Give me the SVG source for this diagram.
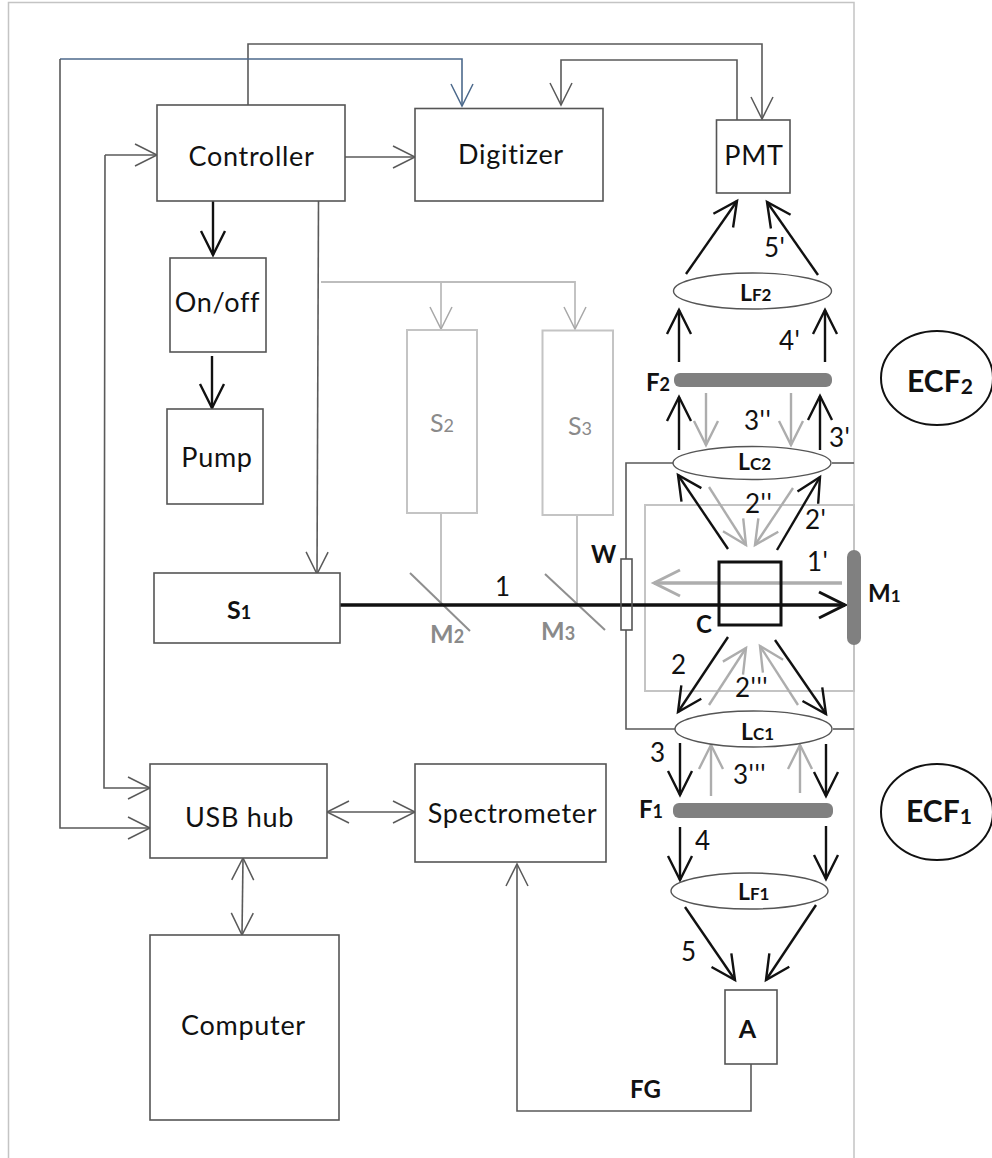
<svg xmlns="http://www.w3.org/2000/svg" width="992" height="1158" viewBox="0 0 992 1158">
<style>
text{font-family:"Lato","Open Sans","Liberation Sans",sans-serif;fill:#111}
.t{font-size:27px;letter-spacing:.7px;text-anchor:middle}
.n{font-size:26px;letter-spacing:.5px}
.b{font-weight:700}
.g{fill:#8a8a8a}
.box{fill:#fff;stroke:#555;stroke-width:1.6}
.lite{fill:#fff;stroke:#c4c4c4;stroke-width:2}
.ell{fill:#fff;stroke:#555;stroke-width:1.4}
.bar{fill:#808080;stroke:none}
.c{fill:none;stroke:#5a5a5a;stroke-width:1.6}
.cg{fill:none;stroke:#bdbdbd;stroke-width:1.8}
.cb{fill:none;stroke:#4d6a8c;stroke-width:1.6}
.k{fill:none;stroke:#111;stroke-width:2.4}
.h{fill:none;stroke:#adadad;stroke-width:2.4}
</style>
<defs>
<marker id="ad" markerUnits="userSpaceOnUse" markerWidth="30" markerHeight="30" refX="24" refY="13" orient="auto-start-reverse" overflow="visible"><path d="M2,2 L24,13 L2,24" fill="none" stroke="#5a5a5a" stroke-width="1.5"/></marker>
<marker id="ab" markerUnits="userSpaceOnUse" markerWidth="30" markerHeight="30" refX="24" refY="13" orient="auto-start-reverse" overflow="visible"><path d="M2,2 L24,13 L2,24" fill="none" stroke="#4d6a8c" stroke-width="1.5"/></marker>
<marker id="ag" markerUnits="userSpaceOnUse" markerWidth="30" markerHeight="30" refX="24" refY="13" orient="auto-start-reverse" overflow="visible"><path d="M2,2 L24,13 L2,24" fill="none" stroke="#a8a8a8" stroke-width="1.5"/></marker>
<marker id="ak" markerUnits="userSpaceOnUse" markerWidth="34" markerHeight="34" refX="26" refY="14" orient="auto-start-reverse" overflow="visible"><path d="M2,2 L26,14 L2,26" fill="none" stroke="#111" stroke-width="2.4"/></marker>
<marker id="ah" markerUnits="userSpaceOnUse" markerWidth="34" markerHeight="34" refX="26" refY="14" orient="auto-start-reverse" overflow="visible"><path d="M2,2 L26,14 L2,26" fill="none" stroke="#adadad" stroke-width="2.4"/></marker>
<marker id="aK" markerUnits="userSpaceOnUse" markerWidth="40" markerHeight="40" refX="28" refY="15" orient="auto" overflow="visible"><path d="M2,2 L28,15 L2,28" fill="none" stroke="#111" stroke-width="3"/></marker>
<marker id="aH" markerUnits="userSpaceOnUse" markerWidth="40" markerHeight="40" refX="28" refY="15" orient="auto" overflow="visible"><path d="M2,2 L28,15 L2,28" fill="none" stroke="#adadad" stroke-width="3"/></marker>
</defs>
<rect width="992" height="1158" fill="#fff"/>
<path d="M8.500,1158 V2.500 H854 V1158" fill="none" stroke="#c4c4c4" stroke-width="1.500"/>
<g id="nodes-frame"><rect id="chamber" x="645" y="505" width="209" height="186" fill="none" stroke="#c4c4c4" stroke-width="2"/></g>
<g id="connectors">
<path class="c" d="M248,105 V44 H762 V119" marker-end="url(#ad)"/>
<path class="c" d="M737,120 V60 H561 V105" marker-end="url(#ad)"/>
<path class="cb" d="M60,59 H462 V106" marker-end="url(#ab)"/>
<path class="c" d="M60,59 V828 H150" marker-end="url(#ad)"/>
<path class="c" d="M105,155 L104,788 H150" marker-end="url(#ad)"/>
<path class="c" d="M105,155 H157" marker-end="url(#ad)"/>
<path class="c" d="M345,157 H415" marker-end="url(#ad)"/>
<path class="k" d="M213,201 V255" marker-end="url(#ak)"/>
<path class="k" d="M212,356 V408" marker-end="url(#ak)"/>
<path class="c" d="M318.500,201 L317,574" marker-end="url(#ad)"/>
<path class="cg" d="M321,282 H575 V329" marker-end="url(#ag)"/>
<path class="cg" d="M441,282 V329" marker-end="url(#ag)"/>
<path class="cg" d="M441,513 V603"/>
<path class="cg" d="M577,515 V603"/>
<path class="c" d="M327,812 H415" marker-start="url(#ad)" marker-end="url(#ad)"/>
<path class="c" d="M243,858 L242,935" marker-start="url(#ad)" marker-end="url(#ad)"/>
<path class="c" d="M751,1064 V1111 H517 V864" marker-end="url(#ad)"/>
<path class="c" d="M673,463 H626 V559"/>
<path class="c" d="M626,630 V729 H675"/>
<path class="c" d="M832,463 H854"/>
<path class="c" d="M833,729 H854"/>
<path d="M410,573 L470,631" stroke="#8f8f8f" stroke-width="2" fill="none"/>
<path d="M545,574 L605,630" stroke="#8f8f8f" stroke-width="2" fill="none"/>
<path d="M340,605 H845" fill="none" stroke="#111" stroke-width="3.500" marker-end="url(#aK)"/>
<path d="M842,583 H654" fill="none" stroke="#adadad" stroke-width="3.500" marker-end="url(#aH)"/>
<path class="k" d="M728,549 L678,475" marker-end="url(#ak)"/>
<path class="k" d="M777,550 L820,477" marker-end="url(#ak)"/>
<path class="h" d="M709,487 L746,545" marker-end="url(#ah)"/>
<path class="h" d="M793,488 L755,545" marker-end="url(#ah)"/>
<path class="k" d="M728,637 L678,712" marker-end="url(#ak)"/>
<path class="k" d="M775,640 L826,714" marker-end="url(#ak)"/>
<path class="h" d="M709,705 L746,648" marker-end="url(#ah)"/>
<path class="h" d="M798,705 L760,646" marker-end="url(#ah)"/>
<path class="k" d="M680,743 V795" marker-end="url(#ak)"/>
<path class="k" d="M826,744 V796" marker-end="url(#ak)"/>
<path class="h" d="M711,796 V745" marker-end="url(#ah)"/>
<path class="h" d="M800,793 V745" marker-end="url(#ah)"/>
<path class="k" d="M680,827 V880" marker-end="url(#ak)"/>
<path class="k" d="M826,826 V879" marker-end="url(#ak)"/>
<path class="k" d="M685,907 L735,980" marker-end="url(#ak)"/>
<path class="k" d="M816,905 L766,980" marker-end="url(#ak)"/>
<path class="k" d="M686,274 L737,201" marker-end="url(#ak)"/>
<path class="k" d="M818,275 L767,202" marker-end="url(#ak)"/>
<path class="k" d="M679,362 V310" marker-end="url(#ak)"/>
<path class="k" d="M825,362 V310" marker-end="url(#ak)"/>
<path class="k" d="M679,450 V397" marker-end="url(#ak)"/>
<path class="k" d="M820,450 V396" marker-end="url(#ak)"/>
<path class="h" d="M706,393 V445" marker-end="url(#ah)"/>
<path class="h" d="M791,393 V445" marker-end="url(#ah)"/>
</g>
<g id="controller"><rect class="box" x="157" y="105" width="188" height="96"/><text class="t" x="251.500" y="166">Controller</text></g>
<g id="digitizer"><rect class="box" x="415" y="108.500" width="188" height="92.500"/><text class="t" x="511" y="164">Digitizer</text></g>
<g id="pmt"><rect class="box" x="716.500" y="120" width="73.500" height="73"/><text class="t" x="754" y="165">PMT</text></g>
<g id="onoff"><rect class="box" x="170" y="258" width="96" height="94"/><text class="t" x="217.500" y="312">On/off</text></g>
<g id="pump"><rect class="box" x="167" y="409" width="96" height="95"/><text class="t" x="217" y="467">Pump</text></g>
<g id="s1"><rect class="box" x="154" y="573" width="186" height="70"/><text class="b" x="227" y="619" font-size="25">S<tspan font-size="18">1</tspan></text></g>
<g id="s2"><rect class="lite" x="407" y="330" width="70" height="183"/><text class="g" x="430" y="432" font-size="25">S<tspan font-size="18">2</tspan></text></g>
<g id="s3"><rect class="lite" x="542.500" y="330.500" width="70.500" height="184.500"/><text class="g" x="568" y="435" font-size="25">S<tspan font-size="18">3</tspan></text></g>
<g id="usb-hub"><rect class="box" x="150" y="764" width="177" height="94"/><text class="t" x="239.500" y="827">USB hub</text></g>
<g id="spectrometer"><rect class="box" x="415" y="764" width="191" height="98"/><text class="t" x="512.500" y="823">Spectrometer</text></g>
<g id="computer"><rect class="box" x="150" y="935" width="189" height="185"/><text class="t" x="243.500" y="1035">Computer</text></g>
<g id="a"><rect class="box" x="725" y="990" width="52" height="74"/><text class="b" x="747.500" y="1038" font-size="25" text-anchor="middle">A</text></g>
<g id="window-w"><rect class="box" x="621" y="559" width="11" height="71" fill-opacity="0"/></g>
<g id="cuvette-c"><rect x="719" y="562" width="62" height="63" fill="none" stroke="#111" stroke-width="3"/></g>
<g id="m1"><rect class="bar" x="847" y="550" width="14" height="95" rx="7"/></g>
<g id="f2"><rect class="bar" x="674" y="373" width="158" height="14" rx="6"/></g>
<g id="f1"><rect class="bar" x="673" y="803" width="160" height="15" rx="6"/></g>
<g id="lf2"><ellipse class="ell" cx="752.500" cy="291" rx="79" ry="18"/><text class="b" x="740" y="301" font-size="23">L<tspan font-size="17">F2</tspan></text></g>
<g id="lc2"><ellipse class="ell" cx="752" cy="463" rx="79" ry="16.500"/><text class="b" x="738" y="470" font-size="23">L<tspan font-size="17">C2</tspan></text></g>
<g id="lc1"><ellipse class="ell" cx="753.500" cy="729" rx="78.500" ry="18"/><text class="b" x="741" y="740" font-size="23">L<tspan font-size="17">C1</tspan></text></g>
<g id="lf1"><ellipse class="ell" cx="749.500" cy="891" rx="78.500" ry="18"/><text class="b" x="738" y="900" font-size="23">L<tspan font-size="17">F1</tspan></text></g>
<g id="ecf2"><ellipse cx="937" cy="378" rx="56" ry="47" fill="#fff" stroke="#111" stroke-width="2"/><text class="b" x="907" y="392" font-size="30">ECF<tspan font-size="21" dy="2">2</tspan></text></g>
<g id="ecf1"><ellipse cx="937" cy="812" rx="56" ry="48" fill="#fff" stroke="#111" stroke-width="2"/><text class="b" x="906" y="822" font-size="30">ECF<tspan font-size="21" dy="2">1</tspan></text></g>
<g id="labels">
<text class="n" x="495" y="596">1</text>
<text class="b g" x="430" y="643" font-size="25">M<tspan font-size="18">2</tspan></text>
<text class="b g" x="541" y="640" font-size="25">M<tspan font-size="18">3</tspan></text>
<text class="b" x="591" y="563" font-size="24">W</text>
<text class="b" x="696" y="633" font-size="24">C</text>
<text class="b" x="868" y="602" font-size="24">M<tspan font-size="17">1</tspan></text>
<text class="n" x="807" y="571">1'</text>
<text class="n" x="805" y="529">2'</text>
<text class="n" x="745" y="513">2''</text>
<text class="n" x="735" y="697">2'''</text>
<text class="n" x="671" y="674">2</text>
<text class="n" x="829" y="447">3'</text>
<text class="n" x="744" y="430">3''</text>
<text class="n" x="779" y="350">4'</text>
<text class="n" x="764" y="257">5'</text>
<text class="n" x="650" y="762">3</text>
<text class="n" x="733" y="784">3'''</text>
<text class="n" x="695" y="850">4</text>
<text class="n" x="681" y="961">5</text>
<text class="b" x="646" y="391" font-size="24">F<tspan font-size="18">2</tspan></text>
<text class="b" x="639" y="818" font-size="24">F<tspan font-size="18">1</tspan></text>
<text class="b" x="630" y="1098" font-size="24">FG</text>
</g>
</svg>
